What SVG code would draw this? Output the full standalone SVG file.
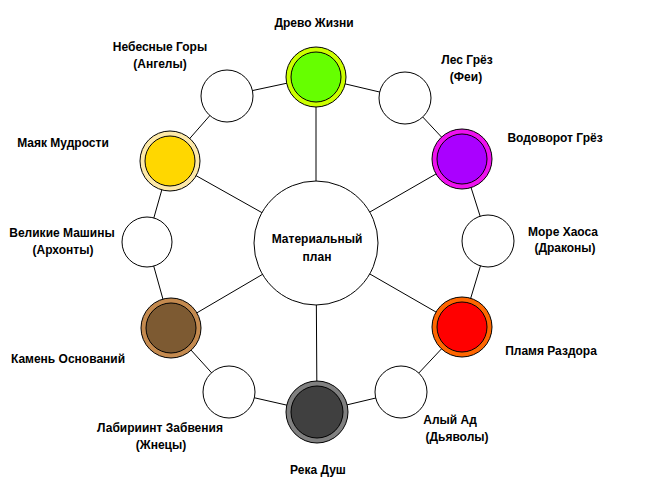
<svg xmlns="http://www.w3.org/2000/svg" width="651" height="500" viewBox="0 0 651 500">
<style>
.ln{stroke:#000;stroke-width:1;fill:none}
.c{stroke:#000;stroke-width:1;fill:#fff}
.t{font-family:"Liberation Sans",Arial,sans-serif;font-weight:bold;font-size:12px;fill:#000;text-anchor:middle}
</style>
<rect width="651" height="500" fill="#fff"/>
<g id="connectors">
<polyline class="ln" points="316,77 405,98 462,159 488,241 462,327 401,392 317,412 229,392 171,328 147,242 170,161 227,96 316,77"/>
<line class="ln" x1="316" y1="243" x2="316" y2="77"/>
<line class="ln" x1="316" y1="243" x2="462" y2="159"/>
<line class="ln" x1="316" y1="243" x2="462" y2="327"/>
<line class="ln" x1="316" y1="243" x2="317" y2="412"/>
<line class="ln" x1="316" y1="243" x2="171" y2="328"/>
<line class="ln" x1="316" y1="243" x2="170" y2="161"/>
</g>
<g id="center"><circle class="c" cx="316" cy="243" r="62"/><text class="t" x="317" y="243">Материальный</text><text class="t" x="317" y="261">план</text></g>
<g id="drevo"><circle class="c" cx="316" cy="77" r="30" fill="#ccff00" style="fill:#ccff00"/><circle class="c" cx="316" cy="77" r="25" style="fill:#66ff00"/><text class="t" x="314" y="27">Древо Жизни</text></g>
<g id="les"><circle class="c" cx="405" cy="98" r="26"/><text class="t" x="467" y="64">Лес Грёз</text><text class="t" x="466" y="81">(Феи)</text></g>
<g id="vodovorot"><circle class="c" cx="462" cy="159" r="30" style="fill:#ee11ee"/><circle class="c" cx="462" cy="159" r="25" style="fill:#aa00ff"/><text class="t" x="555" y="142">Водоворот Грёз</text></g>
<g id="more"><circle class="c" cx="488" cy="241" r="26"/><text class="t" x="563" y="236">Море Хаоса</text><text class="t" x="565" y="252">(Драконы)</text></g>
<g id="plamya"><circle class="c" cx="462" cy="327" r="30" style="fill:#ff6600"/><circle class="c" cx="462" cy="327" r="25" style="fill:#ff0000"/><text class="t" x="551" y="355">Пламя Раздора</text></g>
<g id="ad"><circle class="c" cx="401" cy="392" r="26"/><text class="t" x="450" y="424">Алый Ад</text><text class="t" x="457" y="441">(Дьяволы)</text></g>
<g id="reka"><circle class="c" cx="317" cy="412" r="31" style="fill:#808080"/><circle class="c" cx="317" cy="412" r="26" style="fill:#404040"/><text class="t" x="318" y="474">Река Душ</text></g>
<g id="labirint"><circle class="c" cx="229" cy="392" r="26"/><text class="t" x="160" y="432">Лабириинт Забвения</text><text class="t" x="161" y="449">(Жнецы)</text></g>
<g id="kamen"><circle class="c" cx="171" cy="328" r="30" style="fill:#c48a4f"/><circle class="c" cx="171" cy="328" r="25" style="fill:#7d5a32"/><text class="t" x="68" y="363">Камень Оснований</text></g>
<g id="mashiny"><circle class="c" cx="147" cy="242" r="25"/><text class="t" x="62" y="237">Великие Машины</text><text class="t" x="63" y="254">(Архонты)</text></g>
<g id="mayak"><circle class="c" cx="170" cy="161" r="30" style="fill:#fde9a8"/><circle class="c" cx="170" cy="161" r="25" style="fill:#ffd700"/><text class="t" x="63" y="147">Маяк Мудрости</text></g>
<g id="nebesa"><circle class="c" cx="227" cy="96" r="26"/><text class="t" x="160" y="51">Небесные Горы</text><text class="t" x="160" y="68">(Ангелы)</text></g>
</svg>
